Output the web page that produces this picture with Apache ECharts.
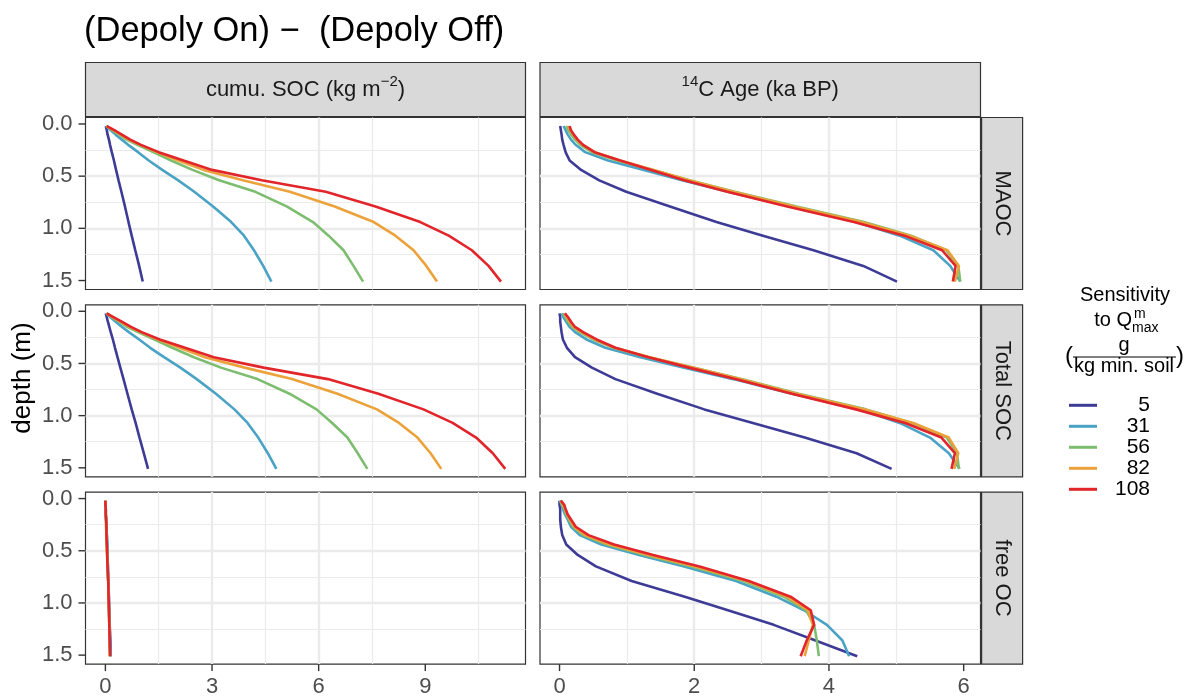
<!DOCTYPE html>
<html>
<head>
<meta charset="utf-8">
<script src="https://cdn.jsdelivr.net/npm/echarts@6.0.0/dist/echarts.min.js"></script>
<style>
  html, body { margin: 0; padding: 0; background: #ffffff; }
  #chart { width: 1195px; height: 700px; }
</style>
</head>
<body>
<div id="chart"></div>
<script>
// Depth of each model layer (m)
const depth = [0.02, 0.06, 0.10, 0.15, 0.20, 0.27, 0.35, 0.44, 0.54, 0.65, 0.79, 0.94, 1.07, 1.21, 1.36, 1.51];

// Q_max sensitivity levels (g / kg min. soil)
const sensitivity = ['5', '31', '56', '82', '108'];

// Cumulative SOC difference (kg m-2), one row per sensitivity level
const cumMAOC = [
  [0.01, 0.04, 0.06, 0.10, 0.13, 0.18, 0.24, 0.30, 0.37, 0.45, 0.55, 0.65, 0.74, 0.84, 0.95, 1.05],
  [0.02, 0.15, 0.28, 0.46, 0.64, 0.92, 1.22, 1.60, 2.05, 2.50, 3.03, 3.54, 3.90, 4.18, 4.44, 4.67],
  [0.03, 0.20, 0.38, 0.60, 0.90, 1.35, 1.85, 2.45, 3.20, 4.22, 5.10, 5.84, 6.28, 6.70, 6.98, 7.25],
  [0.03, 0.22, 0.42, 0.66, 0.98, 1.45, 2.05, 2.76, 3.87, 5.19, 6.45, 7.55, 8.16, 8.67, 9.03, 9.33],
  [0.04, 0.25, 0.45, 0.70, 1.00, 1.50, 2.20, 3.00, 4.40, 6.20, 7.60, 8.86, 9.66, 10.31, 10.78, 11.13]
];
const cumTotalSOC = [
  [0.01, 0.04, 0.07, 0.11, 0.15, 0.21, 0.27, 0.34, 0.42, 0.51, 0.62, 0.74, 0.85, 0.96, 1.08, 1.20],
  [0.02, 0.15, 0.29, 0.47, 0.66, 0.95, 1.26, 1.65, 2.11, 2.57, 3.11, 3.63, 4.00, 4.30, 4.57, 4.81],
  [0.03, 0.20, 0.39, 0.61, 0.92, 1.38, 1.88, 2.49, 3.25, 4.28, 5.18, 5.94, 6.38, 6.81, 7.10, 7.37],
  [0.03, 0.22, 0.43, 0.68, 1.00, 1.48, 2.09, 2.80, 3.92, 5.25, 6.53, 7.64, 8.26, 8.78, 9.15, 9.45],
  [0.04, 0.25, 0.46, 0.72, 1.02, 1.53, 2.24, 3.05, 4.45, 6.26, 7.68, 8.95, 9.77, 10.43, 10.90, 11.25]
];
const cumFreeOC = [
  [0.00, 0.00, 0.01, 0.01, 0.02, 0.03, 0.04, 0.05, 0.06, 0.07, 0.08, 0.10, 0.11, 0.12, 0.14, 0.15],
  [0.00, 0.00, 0.01, 0.01, 0.02, 0.03, 0.04, 0.05, 0.06, 0.07, 0.08, 0.09, 0.10, 0.12, 0.13, 0.14],
  [0.00, 0.00, 0.01, 0.01, 0.02, 0.02, 0.03, 0.04, 0.05, 0.06, 0.08, 0.09, 0.10, 0.11, 0.12, 0.13],
  [0.00, 0.00, 0.01, 0.01, 0.02, 0.02, 0.03, 0.04, 0.05, 0.06, 0.08, 0.09, 0.10, 0.11, 0.12, 0.13],
  [0.00, 0.00, 0.01, 0.01, 0.02, 0.03, 0.03, 0.04, 0.05, 0.06, 0.08, 0.09, 0.10, 0.11, 0.12, 0.13]
];

// 14C age difference (ka BP), one row per sensitivity level
const ageMAOC = [
  [0.01, 0.02, 0.03, 0.04, 0.06, 0.09, 0.15, 0.32, 0.59, 0.99, 1.64, 2.33, 3.02, 3.77, 4.51, 5.01],
  [0.06, 0.09, 0.12, 0.17, 0.24, 0.38, 0.72, 1.25, 1.82, 2.50, 3.42, 4.40, 5.05, 5.55, 5.80, 5.95],
  [0.10, 0.13, 0.17, 0.23, 0.31, 0.48, 0.86, 1.38, 1.93, 2.60, 3.52, 4.52, 5.22, 5.74, 5.92, 5.95],
  [0.13, 0.16, 0.20, 0.26, 0.34, 0.52, 0.90, 1.40, 1.92, 2.58, 3.48, 4.48, 5.20, 5.76, 5.93, 5.87],
  [0.15, 0.17, 0.21, 0.27, 0.35, 0.52, 0.90, 1.36, 1.85, 2.49, 3.38, 4.37, 5.12, 5.68, 5.88, 5.84]
];
const ageTotalSOC = [
  [0.00, 0.01, 0.01, 0.02, 0.03, 0.05, 0.11, 0.23, 0.48, 0.83, 1.45, 2.15, 2.87, 3.64, 4.41, 4.93],
  [0.03, 0.06, 0.10, 0.15, 0.23, 0.40, 0.68, 1.20, 1.85, 2.58, 3.45, 4.45, 5.05, 5.50, 5.78, 5.94],
  [0.05, 0.09, 0.13, 0.19, 0.30, 0.50, 0.80, 1.32, 1.98, 2.70, 3.55, 4.55, 5.23, 5.75, 5.90, 5.93],
  [0.07, 0.11, 0.15, 0.21, 0.33, 0.53, 0.82, 1.34, 1.98, 2.68, 3.52, 4.52, 5.25, 5.78, 5.92, 5.86],
  [0.08, 0.13, 0.17, 0.23, 0.35, 0.55, 0.83, 1.32, 1.92, 2.61, 3.45, 4.40, 5.13, 5.67, 5.87, 5.82]
];
const ageFreeOC = [
  [0.00, 0.00, 0.01, 0.01, 0.01, 0.02, 0.04, 0.10, 0.27, 0.54, 1.07, 1.86, 2.50, 3.18, 3.80, 4.42],
  [0.01, 0.03, 0.05, 0.08, 0.12, 0.17, 0.30, 0.62, 1.18, 1.85, 2.62, 3.22, 3.63, 3.97, 4.20, 4.30],
  [0.01, 0.04, 0.07, 0.10, 0.14, 0.20, 0.35, 0.70, 1.27, 1.96, 2.73, 3.33, 3.66, 3.78, 3.82, 3.85],
  [0.02, 0.05, 0.08, 0.11, 0.15, 0.22, 0.38, 0.74, 1.32, 2.02, 2.78, 3.38, 3.69, 3.76, 3.70, 3.64],
  [0.02, 0.07, 0.09, 0.12, 0.17, 0.24, 0.43, 0.81, 1.39, 2.08, 2.81, 3.43, 3.73, 3.78, 3.67, 3.58]
];

// Facet labels and tick values
const rowLabels = ['MAOC', 'Total SOC', 'free OC'];
const xTicksSOC = [0, 3, 6, 9];
const xTicksAge = [0, 2, 4, 6];
const yTicks = [0, 0.5, 1, 1.5];

// ---- layout and styling ----
const FONT = '"Liberation Sans", Arial, Helvetica, sans-serif';
const lineColors = ['#3d3b96', '#4aa3c5', '#7dbd6f', '#eca23a', '#e1252a'];
const colX = [85.5, 540];
const colW = [440, 440.5];
const rowY = [117.5, 304.8, 492.1];
const rowH = 172;
const xRange = [[-0.56, 11.82], [-0.29, 6.25]];
const yRange = [-0.062, 1.586];
const gridColor = '#ebebeb';
const frameColor = '#333333';
const tickLen = 7;

const panels = [
  { row: 0, col: 0, values: cumMAOC },
  { row: 0, col: 1, values: ageMAOC },
  { row: 1, col: 0, values: cumTotalSOC },
  { row: 1, col: 1, values: ageTotalSOC },
  { row: 2, col: 0, values: cumFreeOC },
  { row: 2, col: 1, values: ageFreeOC }
];

const tickLabelStyle = { fontSize: 22, color: '#4d4d4d', fontFamily: FONT };

const grids = panels.map(p => ({
  left: colX[p.col], top: rowY[p.row], width: colW[p.col], height: rowH,
  show: true, backgroundColor: '#ffffff', borderColor: frameColor, borderWidth: 1.2,
  containLabel: false, outerBoundsMode: 'none'
}));

const xAxes = panels.map((p, i) => {
  const showIt = p.row === 2;
  const ticks = p.col === 0 ? xTicksSOC : xTicksAge;
  return {
    type: 'value', gridIndex: i, position: 'bottom',
    min: xRange[p.col][0], max: xRange[p.col][1],
    splitNumber: p.col === 0 ? 4 : 3,
    axisLine: { show: false, onZero: false },
    axisTick: { show: false, customValues: ticks },
    axisLabel: Object.assign({ show: showIt, customValues: ticks, margin: 12 }, tickLabelStyle),
    splitLine: { show: true, showMinLine: false, showMaxLine: false, lineStyle: { color: gridColor, width: 2.4 } },
    minorTick: { show: false, splitNumber: 2 },
    minorSplitLine: { show: true, lineStyle: { color: gridColor, width: 1.2 } }
  };
});

const yAxes = panels.map((p, i) => {
  const showIt = p.col === 0;
  return {
    type: 'value', gridIndex: i, inverse: true, position: 'left',
    min: yRange[0], max: yRange[1], splitNumber: 3,
    axisLine: { show: false, onZero: false },
    axisTick: { show: false, customValues: yTicks },
    axisLabel: Object.assign({ show: showIt, customValues: yTicks, margin: 13, formatter: v => v.toFixed(1) }, tickLabelStyle),
    splitLine: { show: true, showMinLine: false, showMaxLine: false, lineStyle: { color: gridColor, width: 2.4 } },
    minorTick: { show: false, splitNumber: 2 },
    minorSplitLine: { show: true, lineStyle: { color: gridColor, width: 1.2 } }
  };
});

const series = [];
panels.forEach((p, i) => {
  p.values.forEach((vals, k) => {
    series.push({
      name: sensitivity[k], type: 'line', xAxisIndex: i, yAxisIndex: i,
      data: vals.map((v, j) => [v, depth[j]]),
      symbol: 'none', showSymbol: false, clip: true, silent: true, z: 3,
      lineStyle: { width: 2.6, color: lineColors[k] },
      itemStyle: { color: lineColors[k] }
    });
  });
});

// facet strips, titles and legend heading
const graphics = [];
const stripFill = '#d9d9d9';
const stripText = '#1a1a1a';

// column strips
[0, 1].forEach(c => {
  graphics.push({
    type: 'rect', silent: true,
    shape: { x: colX[c], y: 62.5, width: colW[c], height: 54 },
    style: { fill: stripFill, stroke: frameColor, lineWidth: 1.2 }
  });
});
graphics.push({
  type: 'text', silent: true, x: colX[0] + colW[0] / 2, y: 89.5,
  style: {
    text: '{n|cumu. SOC (kg m}{s|\u22122}{n|)}', align: 'center', verticalAlign: 'middle',
    rich: {
      n: { fontSize: 22, lineHeight: 30, fill: stripText, fontFamily: FONT },
      s: { fontSize: 15, lineHeight: 10, verticalAlign: 'top', fill: stripText, fontFamily: FONT }
    }
  }
});
graphics.push({
  type: 'text', silent: true, x: colX[1] + colW[1] / 2, y: 89.5,
  style: {
    text: '{s|14}{n|C Age (ka BP)}', align: 'center', verticalAlign: 'middle',
    rich: {
      n: { fontSize: 22, lineHeight: 30, fill: stripText, fontFamily: FONT },
      s: { fontSize: 15, lineHeight: 10, verticalAlign: 'top', fill: stripText, fontFamily: FONT }
    }
  }
});

// row strips
rowLabels.forEach((label, r) => {
  graphics.push({
    type: 'rect', silent: true,
    shape: { x: 981.6, y: rowY[r], width: 41, height: rowH },
    style: { fill: stripFill, stroke: frameColor, lineWidth: 1.2 }
  });
  graphics.push({
    type: 'text', silent: true, x: 1002, y: rowY[r] + rowH / 2, rotation: -Math.PI / 2,
    style: { text: label, align: 'center', verticalAlign: 'middle', fontSize: 22, fill: stripText, fontFamily: FONT }
  });
});

// plot title
graphics.push({
  type: 'text', silent: true, x: 84, y: 31,
  style: { text: '(Depoly On) \u2212  (Depoly Off)', align: 'left', verticalAlign: 'middle', fontSize: 34.5, fill: '#000000', fontFamily: FONT }
});

// shared y axis title
graphics.push({
  type: 'text', silent: true, x: 23, y: 378, rotation: Math.PI / 2,
  style: { text: 'depth (m)', align: 'center', verticalAlign: 'middle', fontSize: 26, fill: '#000000', fontFamily: FONT }
});

// legend heading
const legendText = { fill: '#000000', fontFamily: FONT };
graphics.push({ type: 'text', silent: true, x: 1125, y: 295.5,
  style: Object.assign({ text: 'Sensitivity', align: 'center', verticalAlign: 'middle', fontSize: 20 }, legendText) });
graphics.push({ type: 'text', silent: true, x: 1132, y: 320.5,
  style: Object.assign({ text: 'to Q', align: 'right', verticalAlign: 'middle', fontSize: 20 }, legendText) });
graphics.push({ type: 'text', silent: true, x: 1134, y: 314,
  style: Object.assign({ text: 'm', align: 'left', verticalAlign: 'middle', fontSize: 14 }, legendText) });
graphics.push({ type: 'text', silent: true, x: 1132, y: 328,
  style: Object.assign({ text: 'max', align: 'left', verticalAlign: 'middle', fontSize: 14 }, legendText) });
graphics.push({ type: 'text', silent: true, x: 1069, y: 356,
  style: Object.assign({ text: '(', align: 'center', verticalAlign: 'middle', fontSize: 24 }, legendText) });
graphics.push({ type: 'text', silent: true, x: 1180, y: 356,
  style: Object.assign({ text: ')', align: 'center', verticalAlign: 'middle', fontSize: 24 }, legendText) });
graphics.push({ type: 'text', silent: true, x: 1124, y: 345,
  style: Object.assign({ text: 'g', align: 'center', verticalAlign: 'middle', fontSize: 20 }, legendText) });
graphics.push({ type: 'line', silent: true, shape: { x1: 1073, y1: 357, x2: 1176, y2: 357 },
  style: { stroke: '#000000', lineWidth: 1 } });
graphics.push({ type: 'text', silent: true, x: 1124, y: 366,
  style: Object.assign({ text: 'kg min. soil', align: 'center', verticalAlign: 'middle', fontSize: 20 }, legendText) });

const baseOption = {
  animation: false,
  backgroundColor: '#ffffff',
  grid: grids,
  xAxis: xAxes,
  yAxis: yAxes,
  series: series,
  legend: {
    data: sensitivity,
    orient: 'vertical',
    left: 1069, top: 394.8,
    padding: 0, itemGap: 0,
    icon: 'rect', itemWidth: 28, itemHeight: 3,
    selectedMode: false,
    formatter: name => '{v|' + name + '}',
    textStyle: {
      rich: { v: { width: 48, align: 'right', fontSize: 21, lineHeight: 20.4, color: '#000000', fontFamily: FONT } }
    }
  }
};

const chart = echarts.init(document.getElementById('chart'), null, { renderer: 'canvas' });
chart.setOption(baseOption);

// outward tick marks on the outer panels, placed through each panel's scales
const tickMarks = [];
panels.forEach((p, i) => {
  const finder = { xAxisIndex: i, yAxisIndex: i };
  if (p.col === 0) {
    yTicks.forEach(v => {
      const pt = chart.convertToPixel(finder, [xRange[0][0], v]);
      tickMarks.push({
        type: 'rect', silent: true, z: 50,
        shape: { x: pt[0] - tickLen, y: pt[1] - 0.7, width: tickLen, height: 1.4 },
        style: { fill: frameColor }
      });
    });
  }
  if (p.row === 2) {
    (p.col === 0 ? xTicksSOC : xTicksAge).forEach(v => {
      const pt = chart.convertToPixel(finder, [v, yRange[1]]);
      tickMarks.push({
        type: 'rect', silent: true, z: 50,
        shape: { x: pt[0] - 0.7, y: pt[1], width: 1.4, height: tickLen },
        style: { fill: frameColor }
      });
    });
  }
});
chart.setOption({ graphic: { elements: graphics.concat(tickMarks) } });
</script>
</body>
</html>
